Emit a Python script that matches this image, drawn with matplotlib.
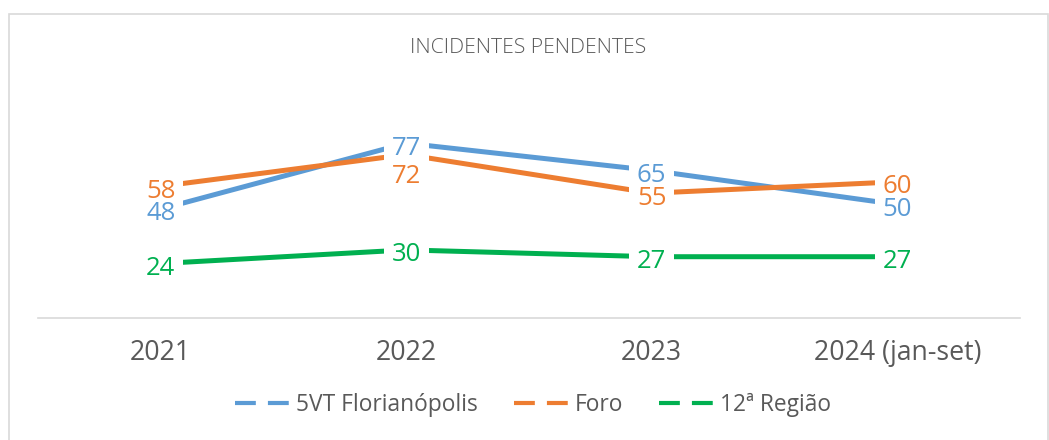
import matplotlib.pyplot as plt
from matplotlib.lines import Line2D
from matplotlib.patches import Rectangle

plt.rcParams['font.family'] = ['Open Sans', 'DejaVu Sans']

# data
years = ['2021', '2022', '2023', '2024 (jan-set)']
vt_floripa = [48, 77, 65, 50]
foro = [58, 72, 55, 60]
regiao12 = [24, 30, 27, 27]

series_names = ['5VT Florianópolis', 'Foro', '12ª Região']
series_vals = [vt_floripa, foro, regiao12]
colors = ['#5B9BD5', '#ED7D31', '#00B050']

# excel pushed the "72" label below the point
label_shift = {(1, 1): -12}

W, H = 1049, 440
fig = plt.figure(figsize=(W / 100, H / 100), dpi=100)
ax = fig.add_axes([38 / W, 1 - 318 / H, 982 / W, 227 / H])

x = list(range(len(years)))
for vals, c in zip(series_vals, colors):
    ax.plot(x, vals, color=c, lw=3.6, solid_capstyle='butt', zorder=2)

# labels: white boxes first, then the coloured text on top
for si, (vals, c) in enumerate(zip(series_vals, colors)):
    for i, v in enumerate(vals):
        dy = label_shift.get((si, i), 0) - 3.5
        ax.annotate(str(v), (i, v), xytext=(0, dy), textcoords='offset points',
                    ha='center', va='center', fontsize=18.5, color='white',
                    bbox=dict(boxstyle='square,pad=0.3', fc='white', ec='none'),
                    zorder=3)
for si, (vals, c) in enumerate(zip(series_vals, colors)):
    for i, v in enumerate(vals):
        dy = label_shift.get((si, i), 0) - 3.5
        ax.annotate(str(v), (i, v), xytext=(0, dy), textcoords='offset points',
                    ha='center', va='center', fontsize=18.5, color=c, zorder=4)

ax.set_xlim(-0.5, len(years) - 0.5)
ax.set_ylim(0, 100)
ax.set_xticks(x)
ax.set_xticklabels(years)
ax.tick_params(axis='x', length=0, pad=15, labelsize=19.2, labelcolor='#595959')
ax.set_yticks([])
for s in ['top', 'right', 'left']:
    ax.spines[s].set_visible(False)
ax.spines['bottom'].set_color('#D9D9D9')
ax.spines['bottom'].set_linewidth(1.2)

fig.text(528 / W, 1 - 48 / H, 'INCIDENTES PENDENTES', ha='center', va='center',
         fontsize=15.2, color='#595959', fontweight='light')

handles = [Line2D([], [], color=c, lw=3, linestyle=(0, (5, 2.9))) for c in colors]
fig.legend(handles, series_names, loc='center', bbox_to_anchor=(533 / W, 1 - 405 / H),
           ncol=3, frameon=False, fontsize=16.4, handlelength=2.5, handletextpad=0.15,
           columnspacing=1.6, labelcolor='#595959')

# chart border
fig.patches.append(Rectangle((9 / W, -0.1), 1039 / W, 1.1 - 14 / H, transform=fig.transFigure,
                             fill=False, ec='#D9D9D9', lw=1.2))

fig.savefig('out.png', dpi=100)
